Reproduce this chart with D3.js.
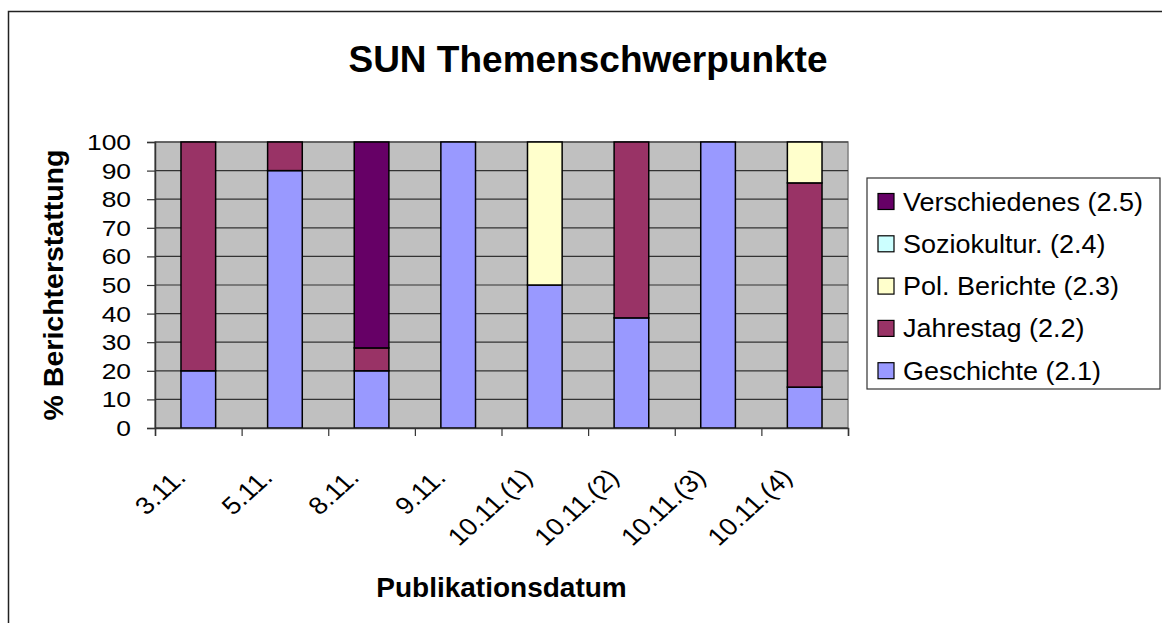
<!DOCTYPE html>
<html>
<head>
<meta charset="utf-8">
<script src="https://cdn.jsdelivr.net/npm/d3@7"></script>
<style>
  body { margin: 0; background: #fff; }
  svg { display: block; font-family: "Liberation Sans", Arial, sans-serif; }
</style>
</head>
<body>
<svg width="1162" height="623"></svg>
<script>
const categories = ['3.11.', '5.11.', '8.11.', '9.11.', '10.11.(1)', '10.11.(2)', '10.11.(3)', '10.11.(4)'];
const geschichte = [20, 90, 20, 100, 50, 38.5, 100, 14.3];
const jahrestag = [80, 10, 8, 0, 0, 61.5, 0, 71.4];
const polBerichte = [0, 0, 0, 0, 50, 0, 0, 14.3];
const soziokultur = [0, 0, 0, 0, 0, 0, 0, 0];
const verschiedenes = [0, 0, 72, 0, 0, 0, 0, 0];
const yTicks = [0, 10, 20, 30, 40, 50, 60, 70, 80, 90, 100];

const seriesNames = ['Geschichte (2.1)', 'Jahrestag (2.2)', 'Pol. Berichte (2.3)', 'Soziokultur. (2.4)', 'Verschiedenes (2.5)'];
const seriesValues = [geschichte, jahrestag, polBerichte, soziokultur, verschiedenes];
const colors = ['#9999ff', '#993366', '#ffffcc', '#ccffff', '#660066'];

const titleText = 'SUN Themenschwerpunkte';
const xAxisLabelText = 'Publikationsdatum';
const yAxisLabelText = '% Berichterstattung';

const svg = d3.select('svg');

// outer chart frame (runs off the right and bottom edges)
svg.append('rect')
    .attr('x', 8.5).attr('y', 11.5)
    .attr('width', 1200).attr('height', 700)
    .attr('fill', '#fff')
    .attr('stroke', '#222')
    .attr('stroke-width', 1.5);

const plot = { left: 155, right: 848, top: 142, bottom: 428 };

const table = categories.map((c, i) => {
    const row = { cat: c };
    seriesNames.forEach((s, j) => row[s] = seriesValues[j][i]);
    return row;
});

const stacked = d3.stack().keys(seriesNames)(table);

const xScale = d3.scaleBand()
    .domain(categories)
    .range([plot.left, plot.right])
    .paddingInner(0.6)
    .paddingOuter(0.3);

const xEdges = d3.scaleLinear()
    .domain([0, categories.length])
    .range([plot.left, plot.right]);

const yScale = d3.scaleLinear()
    .domain([0, 100])
    .range([plot.bottom, plot.top]);

// plot background
svg.append('rect')
    .attr('x', plot.left).attr('y', plot.top)
    .attr('width', plot.right - plot.left)
    .attr('height', plot.bottom - plot.top)
    .attr('fill', '#c0c0c0')
    .attr('stroke', '#808080')
    .attr('stroke-width', 1.5);

// gridlines
svg.append('g')
    .selectAll('line')
    .data(yTicks)
    .enter().append('line')
    .attr('x1', plot.left).attr('x2', plot.right)
    .attr('y1', d => yScale(d)).attr('y2', d => yScale(d))
    .attr('stroke', '#333')
    .attr('stroke-width', 1.2);

// bars
const layer = svg.append('g')
    .selectAll('g')
    .data(stacked)
    .enter().append('g')
    .attr('fill', (d, i) => colors[i]);

layer.selectAll('rect')
    .data(d => d.filter(p => p[1] - p[0] > 0))
    .enter().append('rect')
    .attr('x', d => xScale(d.data.cat))
    .attr('y', d => yScale(d[1]))
    .attr('width', xScale.bandwidth())
    .attr('height', d => yScale(d[0]) - yScale(d[1]))
    .attr('stroke', '#000')
    .attr('stroke-width', 1.5);

// y axis
const yAxisG = svg.append('g')
    .attr('transform', `translate(${plot.left},0)`)
    .call(d3.axisLeft(yScale).tickValues(yTicks).tickSize(8).tickFormat(''));
yAxisG.select('.domain').attr('stroke', '#333').attr('stroke-width', 1.5);
yAxisG.selectAll('.tick line').attr('stroke', '#333').attr('stroke-width', 1.2);

svg.append('g')
    .selectAll('g')
    .data(yTicks)
    .enter().append('g')
    .attr('transform', d => `translate(131,${yScale(d)}) scale(1.2,1)`)
    .append('text')
    .attr('text-anchor', 'end')
    .attr('dy', '0.36em')
    .style('font-size', '22px')
    .attr('fill', '#000')
    .text(d => d);

// x axis (ticks between categories)
const xAxisG = svg.append('g')
    .attr('transform', `translate(0,${plot.bottom})`)
    .call(d3.axisBottom(xEdges).ticks(categories.length).tickSize(8).tickFormat(''));
xAxisG.select('.domain').attr('stroke', '#333').attr('stroke-width', 1.5);
xAxisG.selectAll('.tick line').attr('stroke', '#333').attr('stroke-width', 1.2);

svg.append('g')
    .selectAll('text')
    .data(categories)
    .enter().append('text')
    .attr('transform', d => `translate(${xScale(d) + xScale.bandwidth() / 2 - 11},${plot.bottom + 51}) scale(1.1,1) rotate(-45)`)
    .attr('text-anchor', 'end')
    .style('font-size', '24.5px')
    .attr('fill', '#000')
    .text(d => d);

// titles
svg.append('text')
    .attr('x', 588).attr('y', 72)
    .attr('text-anchor', 'middle')
    .style('font-size', '37px')
    .style('font-weight', 'bold')
    .text(titleText);

svg.append('text')
    .attr('x', (plot.left + plot.right) / 2).attr('y', 597)
    .attr('text-anchor', 'middle')
    .style('font-size', '28px')
    .style('font-weight', 'bold')
    .text(xAxisLabelText);

svg.append('text')
    .attr('transform', `translate(63,${(plot.top + plot.bottom) / 2}) rotate(-90)`)
    .attr('text-anchor', 'middle')
    .style('font-size', '28.5px')
    .style('font-weight', 'bold')
    .text(yAxisLabelText);

// legend
const legend = svg.append('g');
legend.append('rect')
    .attr('x', 867).attr('y', 178)
    .attr('width', 293).attr('height', 211)
    .attr('fill', '#fff')
    .attr('stroke', '#333')
    .attr('stroke-width', 1.2);

const legendOrder = d3.range(seriesNames.length).reverse();
const item = legend.selectAll('g.item')
    .data(legendOrder)
    .enter().append('g')
    .attr('class', 'item')
    .attr('transform', (d, i) => `translate(878,${201.5 + i * 42.3})`);

item.append('rect')
    .attr('x', 0).attr('y', -8)
    .attr('width', 16).attr('height', 16)
    .attr('fill', d => colors[d])
    .attr('stroke', '#000')
    .attr('stroke-width', 1.2);

item.append('g')
    .attr('transform', 'translate(25,0) scale(1.08,1)')
    .append('text')
    .attr('dy', '0.36em')
    .style('font-size', '25px')
    .attr('fill', '#000')
    .text(d => seriesNames[d]);
</script>
</body>
</html>
